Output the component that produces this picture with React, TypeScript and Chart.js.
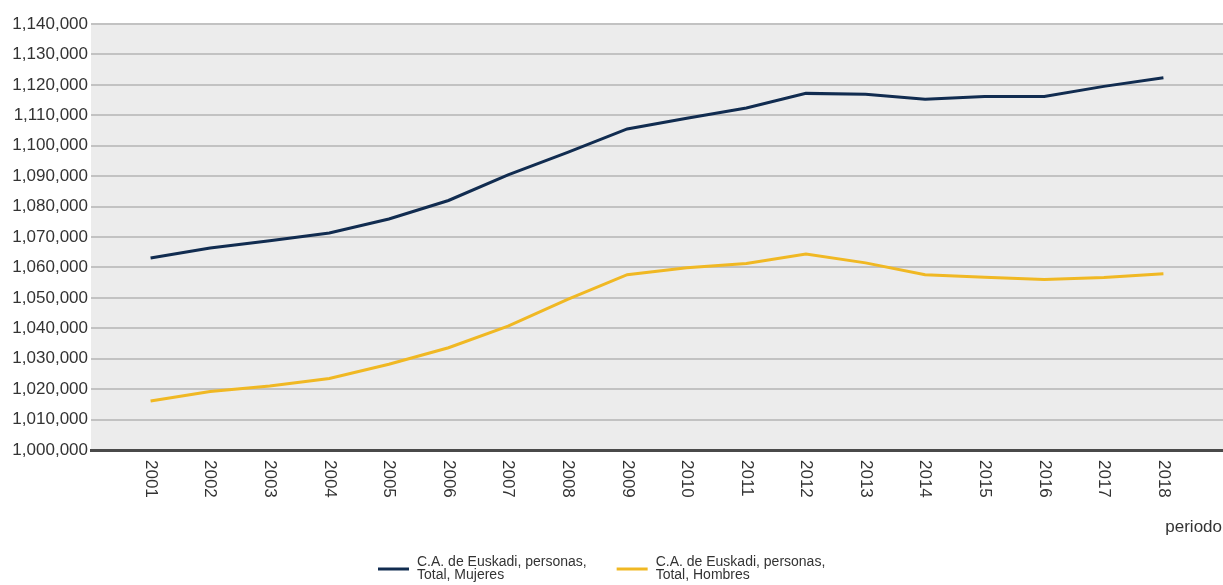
import React, { useEffect, useRef } from "react";
import { Chart, registerables } from "chart.js";

Chart.register(...registerables);

const years = [2001, 2002, 2003, 2004, 2005, 2006, 2007, 2008, 2009, 2010, 2011, 2012, 2013, 2014, 2015, 2016, 2017, 2018];

const mujeres = [1063100, 1066400, 1068800, 1071300, 1075900, 1082000, 1090400, 1097800, 1105500, 1109000, 1112400, 1117200, 1116900, 1115300, 1116200, 1116200, 1119500, 1122300];

const hombres = [1016100, 1019200, 1021000, 1023500, 1028200, 1033600, 1040700, 1049500, 1057600, 1059900, 1061300, 1064400, 1061500, 1057600, 1056800, 1056000, 1056700, 1057900];

const seriesLabels = [
  ["C.A. de Euskadi, personas,", "Total, Mujeres"],
  ["C.A. de Euskadi, personas,", "Total, Hombres"],
];
const seriesColors = ["#112c50", "#f0b823"];
const xAxisTitle = "periodo";

const FONT = "Liberation Sans, Arial, sans-serif";

const customDraw = {
  id: "customDraw",
  beforeDraw(chart: any) {
    const { ctx, chartArea } = chart;
    ctx.save();
    ctx.fillStyle = "#ececec";
    ctx.fillRect(chartArea.left, chartArea.top, chartArea.right - chartArea.left, chartArea.bottom - chartArea.top);
    ctx.restore();
  },
  afterDraw(chart: any) {
    const { ctx } = chart;
    const xs = chart.scales.x;
    ctx.save();
    // x tick labels rotated clockwise
    ctx.font = `17px ${FONT}`;
    ctx.fillStyle = "#333333";
    years.forEach((yr) => {
      const px = xs.getPixelForValue(yr);
      ctx.save();
      ctx.translate(px, xs.top + 10);
      ctx.rotate(Math.PI / 2);
      ctx.textAlign = "left";
      ctx.textBaseline = "middle";
      ctx.fillText(String(yr), 0, 0);
      ctx.restore();
    });
    // axis title
    ctx.textAlign = "right";
    ctx.textBaseline = "middle";
    ctx.fillText(xAxisTitle, chart.width - 1, 527);
    // legend
    ctx.font = `14px ${FONT}`;
    ctx.textAlign = "left";
    let x = 378;
    seriesLabels.forEach((lines, i) => {
      ctx.strokeStyle = seriesColors[i];
      ctx.lineWidth = 3;
      ctx.beginPath();
      ctx.moveTo(x, 569);
      ctx.lineTo(x + 31, 569);
      ctx.stroke();
      const tx = x + 39;
      let w = 0;
      lines.forEach((ln, j) => {
        ctx.fillStyle = "#333333";
        ctx.fillText(ln, tx, 562 + j * 13);
        w = Math.max(w, ctx.measureText(ln).width);
      });
      x = tx + w + 30;
    });
    ctx.restore();
  },
};

export default function App() {
  const ref = useRef<HTMLCanvasElement | null>(null);
  useEffect(() => {
    if (!ref.current) return;
    const chart = new Chart(ref.current, {
      type: "line",
      data: {
        datasets: [
          {
            label: seriesLabels[0].join(" "),
            data: years.map((y, i) => ({ x: y, y: mujeres[i] })),
            borderColor: seriesColors[0],
            backgroundColor: seriesColors[0],
            borderWidth: 3,
            pointRadius: 0,
            tension: 0,
          },
          {
            label: seriesLabels[1].join(" "),
            data: years.map((y, i) => ({ x: y, y: hombres[i] })),
            borderColor: seriesColors[1],
            backgroundColor: seriesColors[1],
            borderWidth: 3,
            pointRadius: 0,
            tension: 0,
          },
        ],
      },
      options: {
        animation: false,
        responsive: false,
        layout: { padding: { top: 24, right: 0, left: 0, bottom: 0 } },
        plugins: { legend: { display: false }, tooltip: { enabled: false } },
        scales: {
          x: {
            type: "linear",
            min: 2000,
            max: 2019,
            ticks: { display: false },
            grid: { display: false, drawTicks: false },
            border: { display: true, color: "#4a4a4a", width: 3 },
            afterFit(scale: any) {
              scale.height = 135;
            },
          },
          y: {
            min: 1000000,
            max: 1140000,
            ticks: {
              stepSize: 10000,
              font: { family: FONT, size: 17 },
              color: "#333333",
              padding: 3,
              callback: (v: any) => Number(v).toLocaleString("en-US"),
            },
            grid: { color: "#c2c2c2", lineWidth: 2, drawTicks: false },
            border: { display: false },
            afterFit(scale: any) {
              scale.width = 91;
            },
          },
        },
      },
      plugins: [customDraw],
    });
    return () => chart.destroy();
  }, []);
  return (
    <div style={{ position: "absolute", left: 0, top: 0, width: 1223, height: 585, background: "#fff" }}>
      <canvas ref={ref} width={1223} height={585} />
    </div>
  );
}
